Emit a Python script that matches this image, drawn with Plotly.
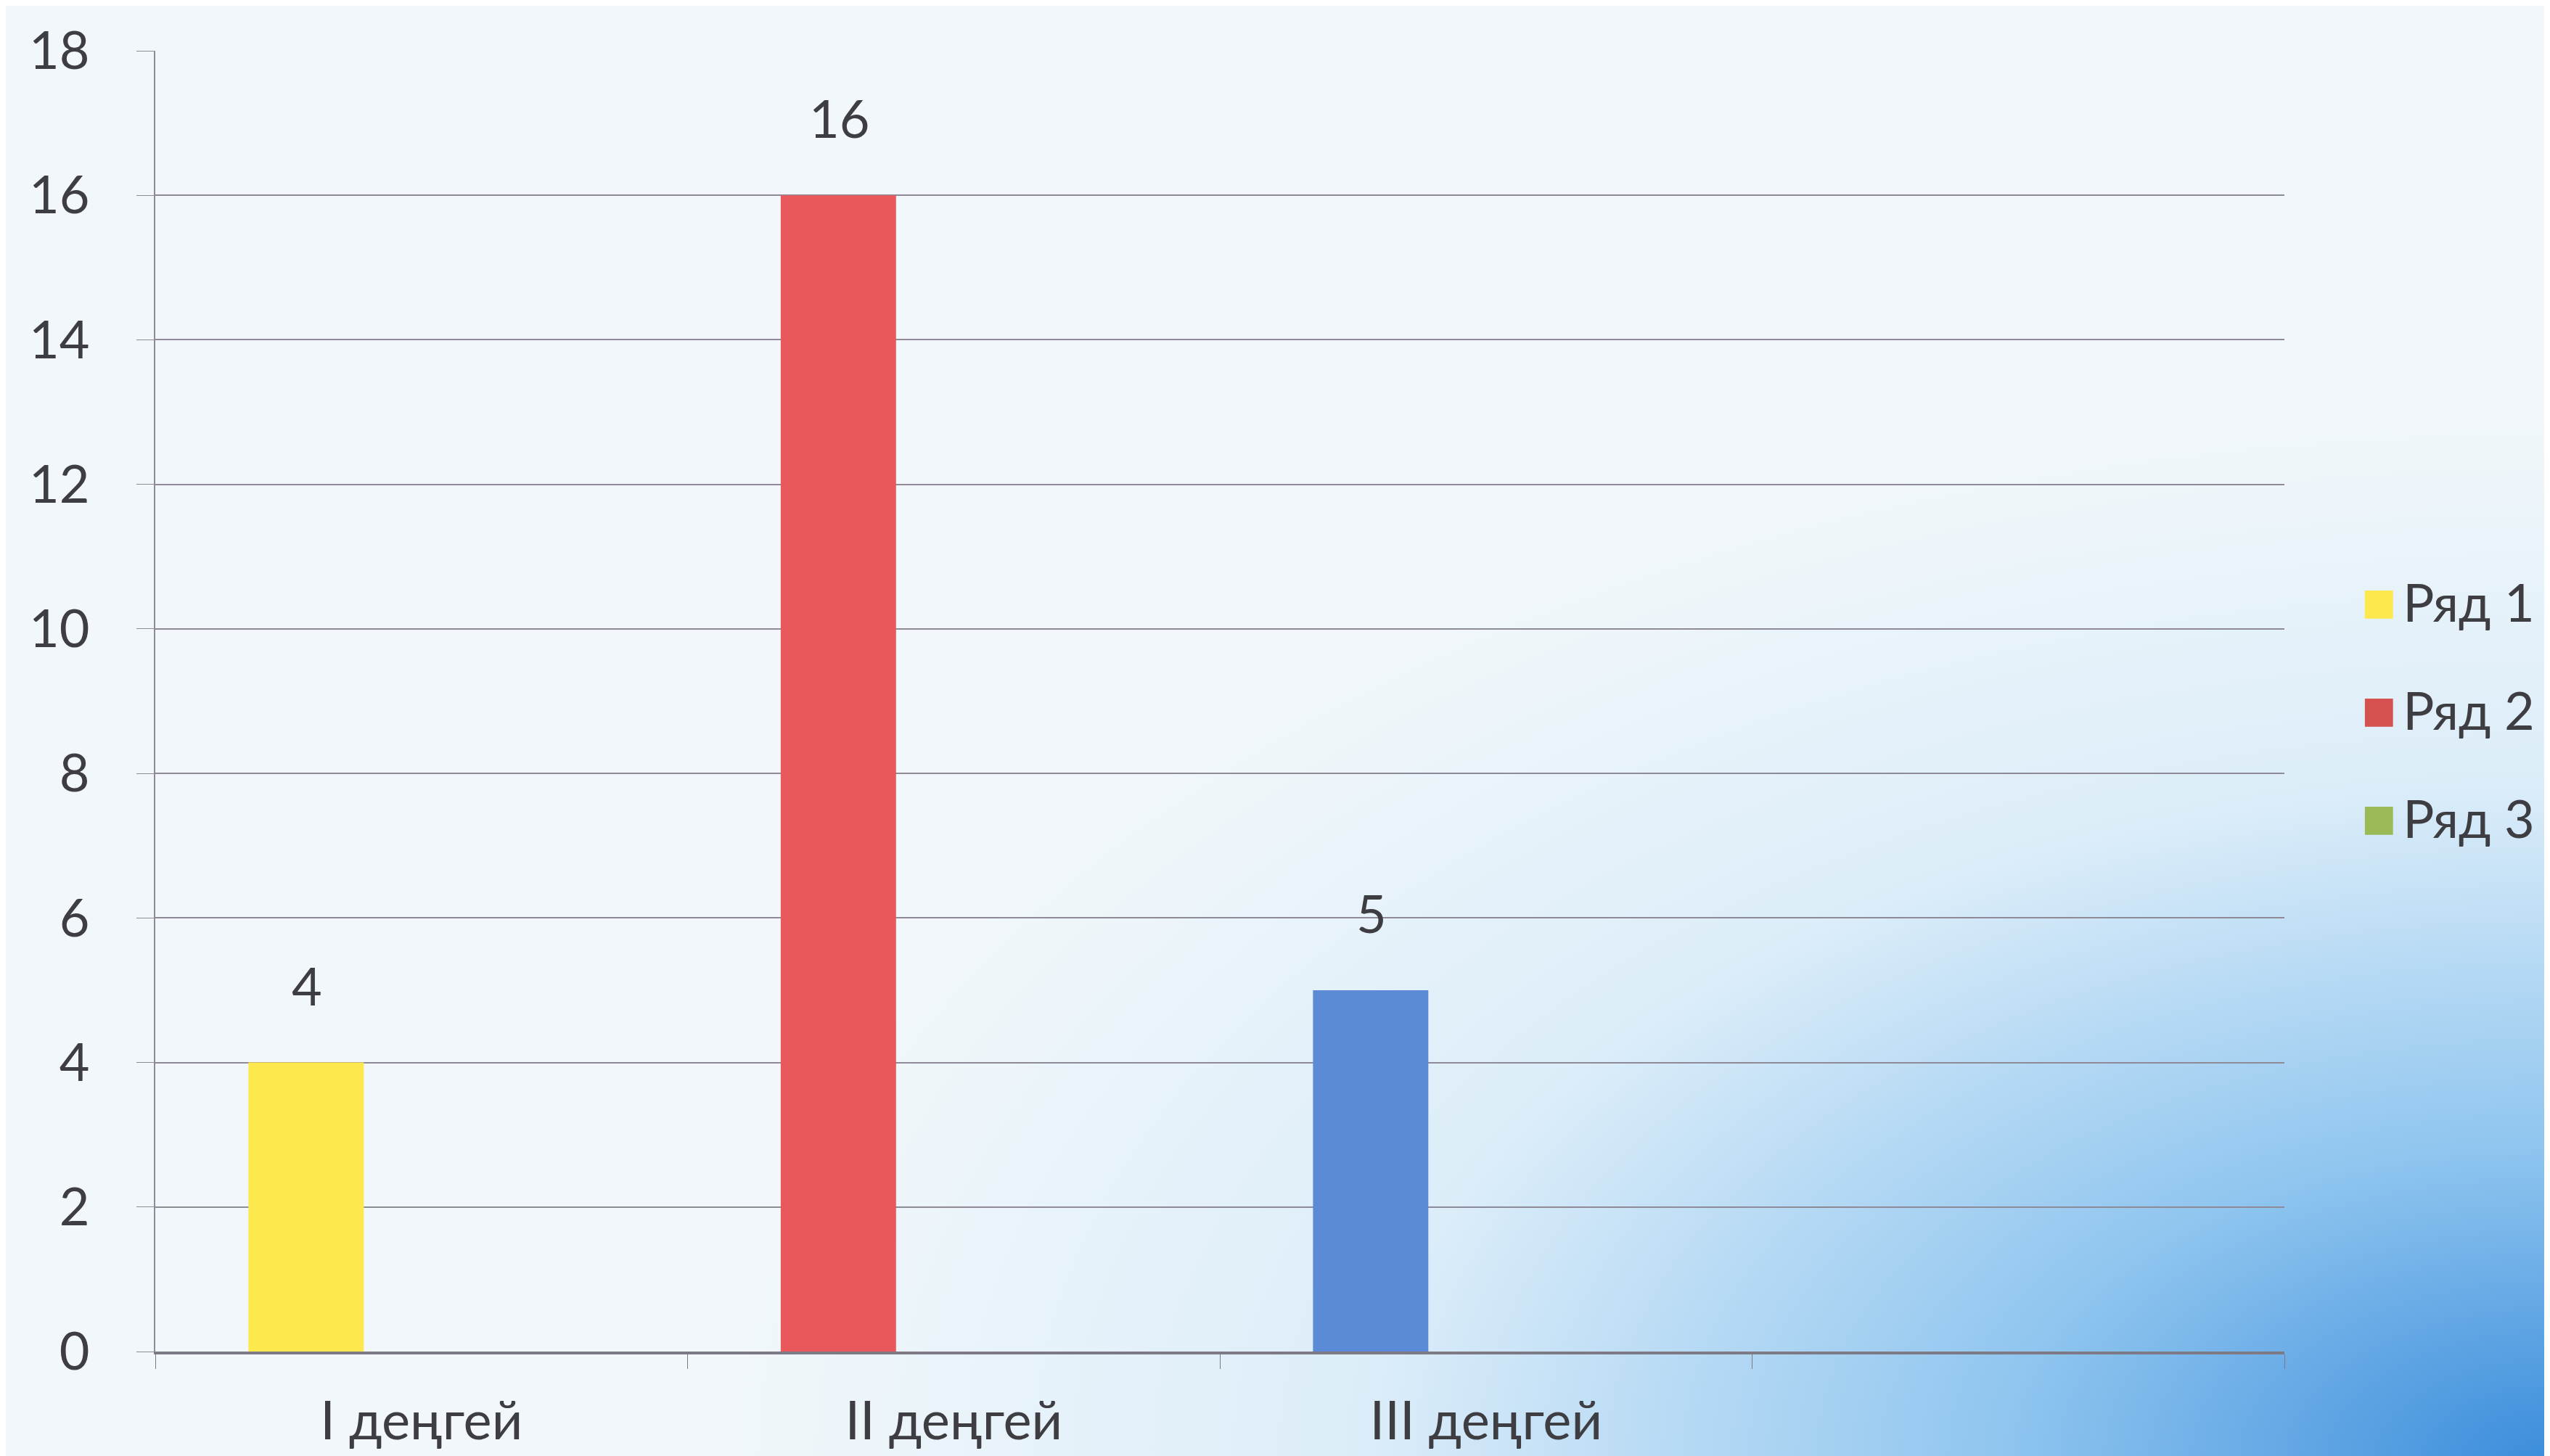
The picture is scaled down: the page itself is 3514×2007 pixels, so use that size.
import base64
import plotly.graph_objects as go

# categories and values
categories = ['I деңгей', 'II деңгей', 'III деңгей', ' ']
series_names = ['Ряд 1', 'Ряд 2', 'Ряд 3']
row1 = [4, 16, 5, None]
row2 = [None, None, None, None]
row3 = [None, None, None, None]
point_colors = ['#fde84e', '#e9585a', '#5b8bd7', '#5b8bd7']
series_colors = ['#fde84e', '#d4514f', '#9cb957']
y_ticks = [0, 2, 4, 6, 8, 10, 12, 14, 16, 18]

font_name = 'Lato, Open Sans, sans-serif'
text_col = '#3d3d42'

W, H = 3514, 2007
L, R, T, B = 206, 374, 62, 152
pw, ph = W - L - R, H - T - B

# soft background, light with blue towards the bottom right corner
svg = '''<svg xmlns="http://www.w3.org/2000/svg" width="3514" height="2007" preserveAspectRatio="none">
<defs><radialGradient id="g" cx="1" cy="1" r="0.72" gradientUnits="objectBoundingBox">
<stop offset="0" stop-color="#3a8cdb"/><stop offset="0.3" stop-color="#8fc5ef"/>
<stop offset="0.65" stop-color="#dcedf9"/><stop offset="1" stop-color="#f1f7fa"/>
</radialGradient></defs><rect width="3514" height="2007" fill="url(#g)"/></svg>'''
bg = 'data:image/svg+xml;base64,' + base64.b64encode(svg.encode()).decode()

fig = go.Figure()
fig.add_trace(go.Bar(x=categories, y=row1, name=series_names[0],
                     marker=dict(color=point_colors, line=dict(width=0))))
fig.add_trace(go.Bar(x=categories, y=row2, name=series_names[1],
                     marker_color=series_colors[1]))
fig.add_trace(go.Bar(x=categories, y=row3, name=series_names[2],
                     marker_color=series_colors[2]))

# value labels above the first series' bars (offset to the first slot of the group)
for cat, val in zip(categories, row1):
    if val is None:
        continue
    fig.add_annotation(x=cat, y=val, text=str(val), showarrow=False,
                       xshift=-0.215 * pw / 4, yshift=62, yanchor='bottom',
                       font=dict(size=72, color=text_col))

# legend drawn as text with square glyphs
for i, (nm, col) in enumerate(zip(series_names, series_colors)):
    fig.add_annotation(xref='paper', yref='paper', x=(3244 - L) / pw,
                       y=(H - B - (818 + 149 * i)) / ph, xanchor='left', yanchor='middle',
                       text=f'<span style="color:{col}; font-size:80px">■</span>\u2009{nm}',
                       showarrow=False, font=dict(size=72, color=text_col))

fig.update_layout(
    width=W, height=H,
    barmode='group', bargap=0.35, bargroupgap=0,
    margin=dict(l=L, r=R, t=T, b=B),
    paper_bgcolor='#f1f7fa', plot_bgcolor='rgba(0,0,0,0)',
    font=dict(family=font_name, size=70, color=text_col),
    images=[dict(source=bg, xref='paper', yref='paper', x=-L / pw, y=1 + T / ph,
                 sizex=W / pw, sizey=H / ph, xanchor='left', yanchor='top',
                 sizing='stretch', layer='below')],
    showlegend=False,
)
fig.update_xaxes(type='category', tickson='boundaries', ticks='outside', ticklen=20,
                 tickcolor='#7d7a85', showline=True, linecolor='#7d7a85', linewidth=4,
                 showgrid=False, tickfont=dict(size=74), ticklabelstandoff=28)
fig.update_yaxes(range=[0, 18], tickvals=y_ticks, showgrid=True, gridcolor='#8f8a98',
                 gridwidth=2, showline=True, linecolor='#8f8a98', linewidth=2,
                 ticks='outside', ticklen=24, tickcolor='#8f8a98', zeroline=False,
                 tickfont=dict(size=72), ticklabelstandoff=50)

fig.write_html('out.html')
